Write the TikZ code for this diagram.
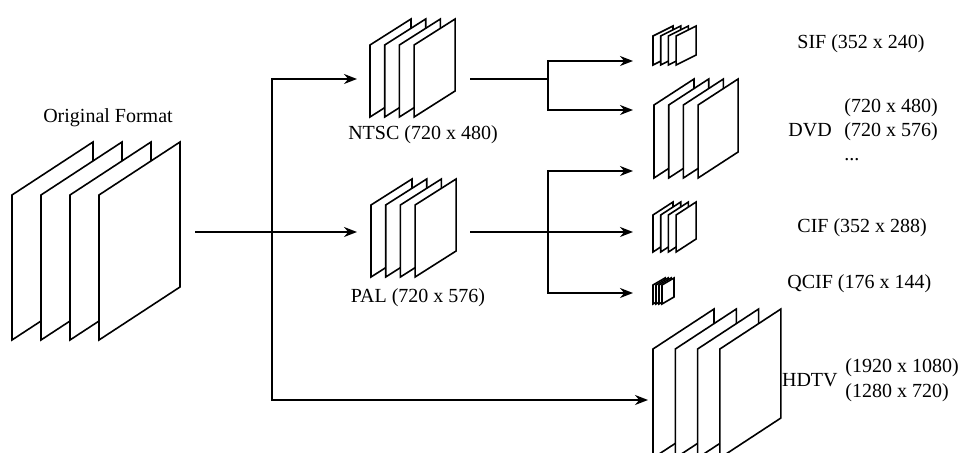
\documentclass[tikz,border=0pt]{standalone}
\usepackage{fontspec}
\setmainfont{Liberation Serif}
\usetikzlibrary{arrows.meta}
\tikzset{
  frame/.style={draw=black,fill=white,line width=0.8pt,line join=miter},
  link/.style={line width=0.8pt},
  lbl/.style={inner sep=0pt,font=\fontsize{10}{12}\selectfont},
}
% four frames: left x, step, bottom y, width, slant, height
\newcommand{\framestack}[6]{%
  \foreach \i in {0,...,3}
    \draw[frame] ({#1+\i*#2},#3) -- ++(0,-#6) -- ++(#4,-#5) -- ++(0,#6) -- cycle;
}
\begin{document}
\begin{tikzpicture}[x=0.5pt,y=-0.5pt,>={Stealth[length=6.5pt,width=5pt]}]
  \path[use as bounding box] (0,0) rectangle (968,453);
  \clip (0,0) rectangle (968,453);
  % stacks
  \framestack{12}{29}{340}{81}{53}{145}
  \framestack{370}{14.7}{117}{41}{26}{72}
  \framestack{371}{14.7}{277}{41}{26}{72}
  \framestack{653}{7.7}{65}{20}{10}{29}
  \framestack{654}{14.7}{178}{40}{26}{73}
  \framestack{653}{7.7}{252}{20}{13}{37}
  \framestack{653}{3}{304}{12}{7}{19}
  \framestack{653}{22.3}{458}{61}{40}{109}
  % connection points
  \coordinate (orgout) at (195,232);
  \coordinate (split) at (272,232);
  \coordinate (ntscin) at (357,79);
  \coordinate (palin) at (357,232);
  \coordinate (hdtvin) at (648,400);
  \coordinate (ntscout) at (470,79);
  \coordinate (ntscfork) at (548,79);
  \coordinate (sifin) at (633,61);
  \coordinate (dvdina) at (633,110);
  \coordinate (palout) at (470,232);
  \coordinate (palfork) at (548,232);
  \coordinate (dvdinb) at (633,171);
  \coordinate (cifin) at (633,232);
  \coordinate (qcifin) at (633,293);
  % connectors
  \draw[link,->] (orgout) -- (palin);
  \draw[link,->] (split) |- (ntscin);
  \draw[link,->] (split) |- (hdtvin);
  \draw[link] (ntscout) -- (ntscfork);
  \draw[link,->] (ntscfork) |- (sifin);
  \draw[link,->] (ntscfork) |- (dvdina);
  \draw[link] (palout) -- (palfork);
  \draw[link,->] (palfork) |- (dvdinb);
  \draw[link,->] (palfork) -- (cifin);
  \draw[link,->] (palfork) |- (qcifin);
  % labels
  \node[lbl] (orglbl) at (108,118) {Original Format};
  \node[lbl] (ntsclbl) at (423,135) {NTSC (720 x 480)};
  \node[lbl] (pallbl) at (418,298) {PAL (720 x 576)};
  \node[lbl,anchor=west] (siflbl) at (797,44) {SIF (352 x 240)};
  \node[lbl,anchor=west] (dvdlbl) at (788,130) {DVD};
  \node[lbl,anchor=west,align=left] (dvdres) at (844,130) {(720 x 480)\\(720 x 576)\\...};
  \node[lbl,anchor=west] (ciflbl) at (797,228) {CIF (352 x 288)};
  \node[lbl,anchor=west] (qciflbl) at (787,284) {QCIF (176 x 144)};
  \node[lbl,anchor=east] (hdtvlbl) at (838,380) {HDTV};
  \node[lbl,anchor=west,align=left,font=\fontsize{10}{12.5}\selectfont] (hdtvres) at (845,380) {(1920 x 1080)\\(1280 x 720)};
\end{tikzpicture}
\end{document}
